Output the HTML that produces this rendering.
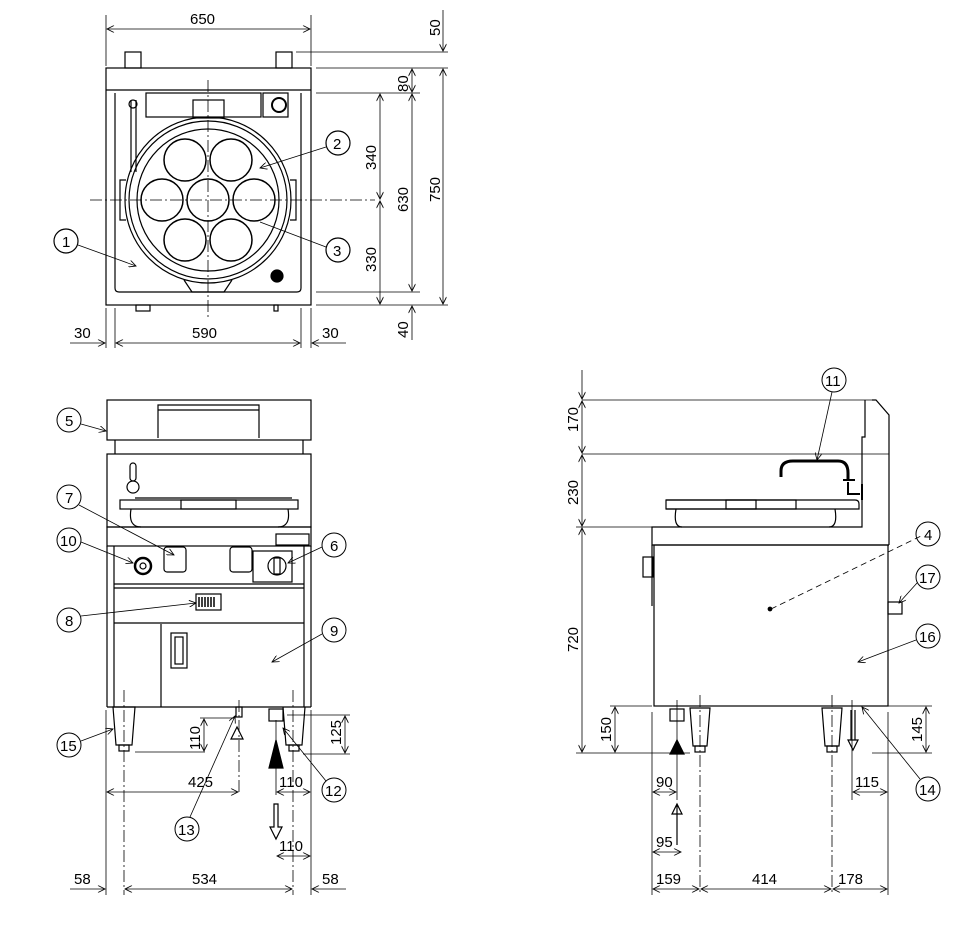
<!DOCTYPE html>
<html><head><style>html,body{margin:0;padding:0;background:#fff}svg{display:block}text{font-family:"Liberation Sans",sans-serif;font-size:15px;fill:#000}</style></head><body>
<svg width="973" height="927" viewBox="0 0 973 927" xmlns="http://www.w3.org/2000/svg" stroke="#000" stroke-width="1.2" fill="none">
<defs>
<marker id="a" viewBox="0 0 10 10" refX="10" refY="5" markerWidth="9" markerHeight="7" orient="auto-start-reverse" markerUnits="userSpaceOnUse"><path d="M0,0 L10,5 L0,10" fill="none" stroke="#000"/></marker>
</defs>
<!-- ===== TOP VIEW ===== -->
<g>
<rect x="106" y="68" width="205" height="237"/>
<line x1="106" y1="90" x2="311" y2="90"/>
<rect x="125" y="52" width="16" height="16"/><rect x="276" y="52" width="16" height="16"/>
<path d="M115,93 V288 q0,4 4,4 H297 q4,0 4,-4 V93"/>
<rect x="146" y="93" width="115" height="24"/>
<rect x="263" y="93" width="25" height="24"/>
<circle cx="279" cy="105" r="7" stroke-width="2"/>
<rect x="193" y="100" width="31" height="18"/>
<circle cx="208" cy="200" r="83"/><circle cx="208" cy="200" r="79"/><circle cx="208" cy="200" r="71"/>
<path d="M126,180 h-6 v40 h6 M290,180 h6 v40 h-6"/>
<path d="M184,280 l8,12 h32 l8,-12"/>
<g stroke-width="1.5">
<circle cx="208" cy="200" r="21"/><circle cx="185" cy="160" r="21"/><circle cx="231" cy="160" r="21"/><circle cx="162" cy="200" r="21"/><circle cx="254" cy="200" r="21"/><circle cx="185" cy="240" r="21"/><circle cx="231" cy="240" r="21"/>
</g>
<path d="M131,100 v72 M136,100 v72" />
<circle cx="133" cy="104" r="4"/>
<circle cx="277" cy="276" r="6" fill="#000"/>
<line x1="208" y1="80" x2="208" y2="320" stroke-dasharray="12,3,2,3" stroke-width="0.8"/>
<line x1="90" y1="200" x2="375" y2="200" stroke-dasharray="12,3,2,3" stroke-width="0.8"/>
<rect x="136" y="305" width="14" height="6"/><rect x="274" y="305" width="4" height="6"/>
<line x1="106" y1="15" x2="106" y2="66" stroke-width="0.8"/><line x1="311" y1="15" x2="311" y2="66" stroke-width="0.8"/>
<line x1="107" y1="29" x2="310" y2="29" marker-start="url(#a)" marker-end="url(#a)" stroke-width="0.8"/>
<text x="190" y="24" stroke="none">650</text>
<g stroke-width="0.8">
<line x1="296" y1="52" x2="448" y2="52"/><line x1="316" y1="68" x2="448" y2="68"/><line x1="316" y1="93" x2="420" y2="93"/><line x1="316" y1="292" x2="420" y2="292"/><line x1="316" y1="305" x2="448" y2="305"/>
<line x1="443" y1="10" x2="443" y2="51" marker-end="url(#a)"/>
<line x1="443" y1="69" x2="443" y2="304" marker-start="url(#a)" marker-end="url(#a)"/>
<line x1="412" y1="69" x2="412" y2="92" marker-start="url(#a)" marker-end="url(#a)"/>
<line x1="412" y1="94" x2="412" y2="291" marker-start="url(#a)" marker-end="url(#a)"/>
<line x1="412" y1="340" x2="412" y2="306" marker-end="url(#a)"/>
<line x1="380" y1="94" x2="380" y2="199" marker-start="url(#a)" marker-end="url(#a)"/>
<line x1="380" y1="201" x2="380" y2="304" marker-start="url(#a)" marker-end="url(#a)"/>
<line x1="106" y1="308" x2="106" y2="348"/><line x1="115" y1="308" x2="115" y2="348"/><line x1="301" y1="308" x2="301" y2="348"/><line x1="311" y1="308" x2="311" y2="348"/>
<line x1="70" y1="343" x2="105" y2="343" marker-end="url(#a)"/>
<line x1="116" y1="343" x2="300" y2="343" marker-start="url(#a)" marker-end="url(#a)"/>
<line x1="346" y1="343" x2="312" y2="343" marker-end="url(#a)"/>
</g>
<g stroke="none">
<text x="74" y="338">30</text><text x="192" y="338">590</text><text x="322" y="338">30</text>
<text transform="translate(440,36) rotate(-90)">50</text>
<text transform="translate(408,92) rotate(-90)">80</text>
<text transform="translate(376,170) rotate(-90)">340</text>
<text transform="translate(376,272) rotate(-90)">330</text>
<text transform="translate(408,212) rotate(-90)">630</text>
<text transform="translate(440,202) rotate(-90)">750</text>
<text transform="translate(408,338) rotate(-90)">40</text>
</g>
<circle cx="338" cy="143" r="12"/><text x="333" y="149" stroke="none">2</text>
<line x1="326" y1="147" x2="260" y2="168" stroke-width="0.8" marker-end="url(#a)"/>
<circle cx="338" cy="250" r="12"/><text x="333" y="256" stroke="none">3</text>
<line x1="326" y1="247" x2="260" y2="222" stroke-width="0.8"/>
<circle cx="66" cy="241" r="12"/><text x="62" y="247" stroke="none">1</text>
<line x1="78" y1="245" x2="136" y2="266" stroke-width="0.8" marker-end="url(#a)"/>
</g>
<!-- ===== FRONT VIEW ===== -->
<g>
<rect x="107" y="400" width="204" height="40"/>
<path d="M158,438 V405 H259 V438"/><line x1="158" y1="410" x2="259" y2="410"/>
<path d="M115,440 V454 M303,440 V454"/>
<rect x="107" y="454" width="204" height="73"/>
<rect x="107" y="527" width="204" height="19"/>
<rect x="276" y="534" width="33" height="11"/>
<path d="M114,546 V707 M304,546 V707"/>
<line x1="107" y1="546" x2="107" y2="707"/><line x1="311" y1="546" x2="311" y2="707"/>
<line x1="114" y1="584" x2="304" y2="584"/><line x1="114" y1="588" x2="304" y2="588"/><line x1="114" y1="623" x2="304" y2="623"/>
<line x1="107" y1="707" x2="311" y2="707"/>
<rect x="120" y="500" width="178" height="9"/><line x1="135" y1="498" x2="292" y2="498"/>
<rect x="181" y="500" width="55" height="9"/>
<path d="M131,509 q-3,18 10,18 M288,509 q3,18 -10,18"/>
<circle cx="133" cy="487" r="6"/><rect x="130" y="463" width="6" height="18" rx="3"/>
<rect x="164" y="547" width="22" height="25" rx="3"/><rect x="230" y="547" width="22" height="25" rx="3"/>
<rect x="253" y="551" width="39" height="31"/>
<circle cx="277" cy="566" r="9"/><rect x="274" y="558" width="6" height="16"/>
<circle cx="143" cy="566" r="8" stroke-width="2.5"/><circle cx="143" cy="566" r="3"/>
<rect x="196" y="594" width="25" height="16"/>
<path d="M199,597 v10 M202,597 v10 M205,597 v10 M208,597 v10 M211,597 v10 M214,597 v10" stroke-width="1.5"/>
<line x1="161" y1="624" x2="161" y2="707"/>
<rect x="171" y="633" width="16" height="35"/><rect x="175" y="637" width="8" height="27"/>
<path d="M113,707 l3,38 h16 l3,-38 Z"/><rect x="119" y="745" width="10" height="6"/>
<path d="M283,707 l3,38 h16 l3,-38"/><rect x="289" y="745" width="10" height="6"/>
<rect x="236" y="707" width="6" height="10"/>
<rect x="269" y="709" width="14" height="12"/>
<path d="M237,727 l-6,12 h12 Z"/>
<path d="M276,740 l-7,28 h14 Z" fill="#000"/>
<path d="M274,804 h4 v23 h4 l-6,12 l-6,-12 h4 Z"/>
<g stroke-width="0.8">
<line x1="124" y1="690" x2="124" y2="895" stroke-dasharray="12,3,2,3"/>
<line x1="293" y1="690" x2="293" y2="895" stroke-dasharray="12,3,2,3"/>
<line x1="239" y1="700" x2="239" y2="795" stroke-dasharray="12,3,2,3"/>
<line x1="106" y1="710" x2="106" y2="895"/><line x1="311" y1="710" x2="311" y2="895"/>
<line x1="276" y1="720" x2="276" y2="795"/>
<line x1="200" y1="718" x2="235" y2="718"/><line x1="135" y1="752" x2="205" y2="752"/>
<line x1="204" y1="719" x2="204" y2="751" marker-start="url(#a)" marker-end="url(#a)"/>
<line x1="287" y1="715" x2="350" y2="715"/><line x1="303" y1="754" x2="350" y2="754"/>
<line x1="345" y1="716" x2="345" y2="753" marker-start="url(#a)" marker-end="url(#a)"/>
<line x1="107" y1="792" x2="238" y2="792" marker-start="url(#a)" marker-end="url(#a)"/>
<line x1="277" y1="792" x2="310" y2="792" marker-start="url(#a)" marker-end="url(#a)"/>
<line x1="277" y1="856" x2="310" y2="856" marker-start="url(#a)" marker-end="url(#a)"/>
<line x1="70" y1="889" x2="105" y2="889" marker-end="url(#a)"/>
<line x1="125" y1="889" x2="292" y2="889" marker-start="url(#a)" marker-end="url(#a)"/>
<line x1="346" y1="889" x2="312" y2="889" marker-end="url(#a)"/>
</g>
<g stroke="none">
<text transform="translate(200,750) rotate(-90)">110</text>
<text transform="translate(341,745) rotate(-90)">125</text>
<text x="188" y="787">425</text><text x="279" y="787">110</text><text x="279" y="851">110</text>
<text x="74" y="884">58</text><text x="192" y="884">534</text><text x="322" y="884">58</text>
</g>
<g stroke-width="1">
<circle cx="69" cy="420" r="12"/><circle cx="69" cy="497" r="12"/><circle cx="69" cy="540" r="12"/><circle cx="69" cy="620" r="12"/><circle cx="69" cy="745" r="12"/>
<circle cx="334" cy="545" r="12"/><circle cx="334" cy="630" r="12"/><circle cx="334" cy="790" r="12"/><circle cx="187" cy="829" r="12"/>
</g>
<g stroke-width="0.8">
<line x1="81" y1="424" x2="106" y2="431" marker-end="url(#a)"/>
<line x1="79" y1="505" x2="174" y2="555" marker-end="url(#a)"/>
<line x1="81" y1="542" x2="133" y2="563" marker-end="url(#a)"/>
<line x1="81" y1="616" x2="196" y2="603" marker-end="url(#a)"/>
<line x1="81" y1="741" x2="113" y2="729" marker-end="url(#a)"/>
<line x1="322" y1="547" x2="288" y2="563" marker-end="url(#a)"/>
<line x1="322" y1="634" x2="272" y2="662" marker-end="url(#a)"/>
<line x1="326" y1="781" x2="283" y2="728" marker-end="url(#a)"/>
<line x1="190" y1="817" x2="235" y2="716" marker-end="url(#a)"/>
</g>
<g stroke="none">
<text x="65" y="426">5</text><text x="65" y="503">7</text><text x="60" y="546">10</text><text x="65" y="626">8</text><text x="60" y="751">15</text>
<text x="330" y="551">6</text><text x="330" y="636">9</text><text x="325" y="796">12</text><text x="178" y="835">13</text>
</g>
</g>
<!-- ===== SIDE VIEW ===== -->
<g>
<line x1="582" y1="400" x2="872" y2="400" stroke-width="0.8"/>
<line x1="582" y1="454" x2="889" y2="454" stroke-width="0.8"/>
<line x1="576" y1="527" x2="652" y2="527" stroke-width="0.8"/>
<path d="M872,400 h4 l13,15 V545 M865,400 V437 h-3 V527 H652 V545 H889"/>
<rect x="654" y="545" width="234" height="161"/>
<rect x="643" y="557" width="10" height="20"/>
<line x1="652" y1="545" x2="652" y2="606"/>
<rect x="888" y="602" width="14" height="12"/>
<rect x="666" y="500" width="130" height="9"/>
<path d="M666,500 H855 q4,0 4,4 v5 H666"/>
<rect x="726" y="500" width="30" height="9"/>
<path d="M676,509 q-3,18 6,18 M835,509 q3,18 -6,18"/>
<path d="M781,477 v-6 q0,-10 12,-10 h45 q10,0 10,12 v6" stroke-width="3"/>
<path d="M843,480 h12 M848,482 v12 h12 M862,484 v16" stroke-width="2"/>
<path d="M690,708 l3,38 h14 l3,-38 Z"/><rect x="695" y="746" width="10" height="6"/>
<path d="M822,708 l3,38 h14 l3,-38 Z"/><rect x="827" y="746" width="10" height="6"/>
<rect x="670" y="709" width="14" height="12"/>
<path d="M677,740 l-7,14 h14 Z" fill="#000"/>
<path d="M851,710 v30 M855,710 v30 M848,740 l5,10 l5,-10 Z"/>
<path d="M677,805 v40 M672,814 l5,-10 l5,10 Z"/>
<g stroke-width="0.8">
<line x1="700" y1="695" x2="700" y2="895" stroke-dasharray="12,3,2,3"/>
<line x1="832" y1="695" x2="832" y2="895" stroke-dasharray="12,3,2,3"/>
<line x1="677" y1="700" x2="677" y2="800"/>
<line x1="852" y1="700" x2="852" y2="800"/>
<line x1="652" y1="712" x2="652" y2="895"/><line x1="888" y1="712" x2="888" y2="895"/>
<line x1="610" y1="706" x2="652" y2="706"/><line x1="576" y1="753" x2="690" y2="753"/>
<line x1="864" y1="706" x2="932" y2="706"/><line x1="872" y1="753" x2="932" y2="753"/>
<line x1="582" y1="370" x2="582" y2="399" marker-end="url(#a)"/>
<line x1="582" y1="401" x2="582" y2="453" marker-start="url(#a)" marker-end="url(#a)"/>
<line x1="582" y1="455" x2="582" y2="526" marker-start="url(#a)" marker-end="url(#a)"/>
<line x1="582" y1="528" x2="582" y2="752" marker-start="url(#a)" marker-end="url(#a)"/>
<line x1="615" y1="707" x2="615" y2="752" marker-start="url(#a)" marker-end="url(#a)"/>
<line x1="926" y1="707" x2="926" y2="752" marker-start="url(#a)" marker-end="url(#a)"/>
<line x1="653" y1="792" x2="676" y2="792" marker-start="url(#a)" marker-end="url(#a)"/>
<line x1="653" y1="852" x2="681" y2="852" marker-start="url(#a)" marker-end="url(#a)"/>
<line x1="853" y1="792" x2="887" y2="792" marker-start="url(#a)" marker-end="url(#a)"/>
<line x1="653" y1="889" x2="699" y2="889" marker-start="url(#a)" marker-end="url(#a)"/>
<line x1="701" y1="889" x2="831" y2="889" marker-start="url(#a)" marker-end="url(#a)"/>
<line x1="833" y1="889" x2="887" y2="889" marker-start="url(#a)" marker-end="url(#a)"/>
<line x1="771" y1="609" x2="923" y2="535" stroke-dasharray="6,4"/>
</g>
<circle cx="770" cy="609" r="1.8" fill="#000"/>
<g stroke="none">
<text transform="translate(578,432) rotate(-90)">170</text>
<text transform="translate(578,505) rotate(-90)">230</text>
<text transform="translate(578,652) rotate(-90)">720</text>
<text transform="translate(611,742) rotate(-90)">150</text>
<text transform="translate(922,742) rotate(-90)">145</text>
<text x="656" y="787">90</text><text x="656" y="847">95</text><text x="855" y="787">115</text>
<text x="656" y="884">159</text><text x="752" y="884">414</text><text x="838" y="884">178</text>
</g>
<g stroke-width="1">
<circle cx="834" cy="380" r="12"/><circle cx="928" cy="534" r="12"/><circle cx="928" cy="577" r="12"/><circle cx="928" cy="636" r="12"/><circle cx="928" cy="789" r="12"/>
</g>
<g stroke-width="0.8">
<line x1="832" y1="392" x2="817" y2="460" marker-end="url(#a)"/>
<line x1="917" y1="583" x2="899" y2="603" marker-end="url(#a)"/>
<line x1="916" y1="640" x2="858" y2="662" marker-end="url(#a)"/>
<line x1="920" y1="779" x2="862" y2="707" marker-end="url(#a)"/>
</g>
<g stroke="none">
<text x="825" y="386">11</text><text x="924" y="540">4</text><text x="919" y="583">17</text><text x="919" y="642">16</text><text x="919" y="795">14</text>
</g>
</g>
</svg>
</body></html>
